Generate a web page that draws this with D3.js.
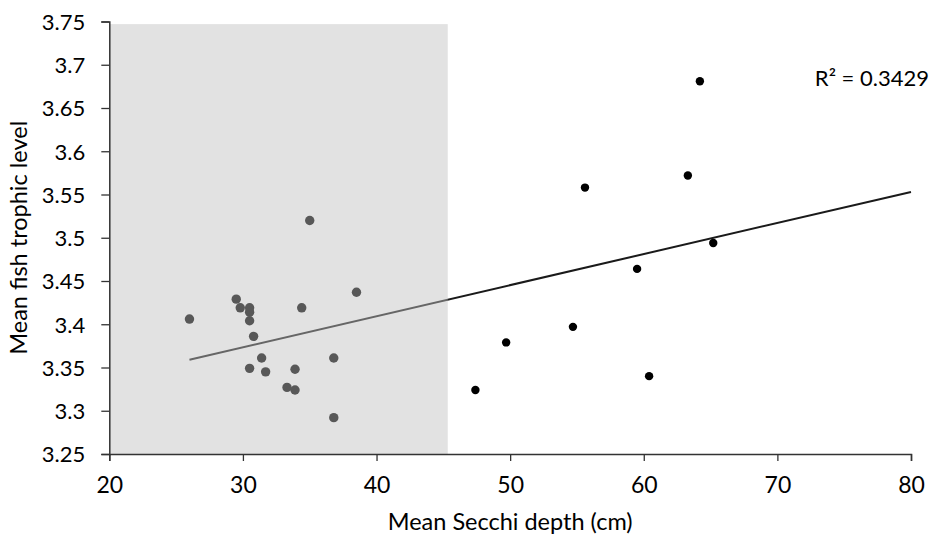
<!DOCTYPE html>
<html>
<head>
<meta charset="utf-8">
<script src="https://cdn.jsdelivr.net/npm/d3@7"></script>
<style>
    body { margin: 0; background: #fff; }
    svg text { font-family: Lato, "Open Sans", sans-serif; fill: #000; }
</style>
</head>
<body>
<div id="chart"></div>
<script>
// Low-Secchi lakes (inside the shaded band)
const shallowDepth = [26.0, 29.5, 29.8, 30.5, 30.5, 30.5, 30.8, 31.4, 30.5, 31.7, 33.9, 33.3, 33.9, 34.4, 38.5, 36.8, 36.8, 35.0];
const shallowLevel = [3.406, 3.429, 3.419, 3.419, 3.414, 3.404, 3.386, 3.361, 3.349, 3.345, 3.348, 3.327, 3.324, 3.419, 3.437, 3.361, 3.292, 3.520];

// Clearer lakes
const deepDepth = [47.4, 49.7, 54.7, 55.6, 59.5, 60.4, 63.3, 64.2, 65.2];
const deepLevel = [3.324, 3.379, 3.397, 3.558, 3.464, 3.340, 3.572, 3.681, 3.494];

// Linear trend and its label
const trendDepth = [26, 80];
const trendLevel = [3.359, 3.553];
const r2Label = 'R² = 0.3429';

// Shaded band limits
const bandDepth = [20, 45.33];
const bandLevel = [3.25, 3.747];

const xTicks = [20, 30, 40, 50, 60, 70, 80];
const yTicks = [3.25, 3.3, 3.35, 3.4, 3.45, 3.5, 3.55, 3.6, 3.65, 3.7, 3.75];

const W = 933, H = 536;
const margin = { top: 21.5, right: 22, bottom: 82, left: 109.3 };
const width = W - margin.left - margin.right;
const height = H - margin.top - margin.bottom;

const svg = d3.select('#chart').append('svg')
    .attr('width', W)
    .attr('height', H);

const g = svg.append('g')
    .attr('transform', `translate(${margin.left},${margin.top})`);

const x = d3.scaleLinear().domain([20, 80]).range([0, width]);
const y = d3.scaleLinear().domain([3.25, 3.75]).range([height, 0]);

const shallow = shallowDepth.map((d, i) => ({ x: d, y: shallowLevel[i] }));
const deep = deepDepth.map((d, i) => ({ x: d, y: deepLevel[i] }));

// Trend line
const line = d3.line().x(d => x(d[0])).y(d => y(d[1]));
g.append('path')
    .datum(trendDepth.map((d, i) => [d, trendLevel[i]]))
    .attr('fill', 'none')
    .attr('stroke', '#1a1a1a')
    .attr('stroke-width', 2)
    .attr('d', line);

// Points
g.selectAll('.dot-shallow')
    .data(shallow)
    .enter().append('circle')
    .attr('class', 'dot-shallow')
    .attr('cx', d => x(d.x))
    .attr('cy', d => y(d.y))
    .attr('r', 4.7)
    .attr('fill', '#000');

g.selectAll('.dot-deep')
    .data(deep)
    .enter().append('circle')
    .attr('class', 'dot-deep')
    .attr('cx', d => x(d.x))
    .attr('cy', d => y(d.y))
    .attr('r', 4.2)
    .attr('fill', '#000');

// Translucent band drawn over the marks so they read grey
g.append('rect')
    .attr('x', x(bandDepth[0]))
    .attr('y', y(bandLevel[1]))
    .attr('width', x(bandDepth[1]) - x(bandDepth[0]))
    .attr('height', y(bandLevel[0]) - y(bandLevel[1]))
    .attr('fill', '#c0c0c0')
    .attr('fill-opacity', 0.46);

// Axes
const xAxis = g.append('g')
    .attr('transform', `translate(0,${height})`)
    .call(d3.axisBottom(x).tickValues(xTicks).tickSize(7).tickPadding(16).tickFormat(d3.format('d')));

const yAxis = g.append('g')
    .call(d3.axisLeft(y).tickValues(yTicks).tickSize(8).tickPadding(16).tickFormat(d => String(+d.toFixed(2))));

[xAxis, yAxis].forEach(ax => {
    ax.select('.domain').attr('stroke', '#333').attr('stroke-width', 1.5);
    ax.selectAll('.tick line').attr('stroke', '#333').attr('stroke-width', 1.3);
    ax.selectAll('.tick text')
        .style('font-family', 'Lato, sans-serif')
        .style('font-size', '22px')
        .attr('fill', '#000');
});
xAxis.selectAll('.tick text').style('font-size', '23px');
yAxis.selectAll('.tick text').attr('dy', '0.36em');

// Axis titles
svg.append('text')
    .attr('x', margin.left + width / 2)
    .attr('y', 530)
    .attr('text-anchor', 'middle')
    .style('font-size', '23.5px')
    .text('Mean Secchi depth (cm)');

svg.append('text')
    .attr('transform', `translate(27,${margin.top + height / 2}) rotate(-90)`)
    .attr('text-anchor', 'middle')
    .style('font-size', '23.5px')
    .text('Mean fish trophic level');

// R squared label
svg.append('text')
    .attr('x', 929)
    .attr('y', 86)
    .attr('text-anchor', 'end')
    .style('font-size', '22px')
    .text(r2Label);
</script>
</body>
</html>
